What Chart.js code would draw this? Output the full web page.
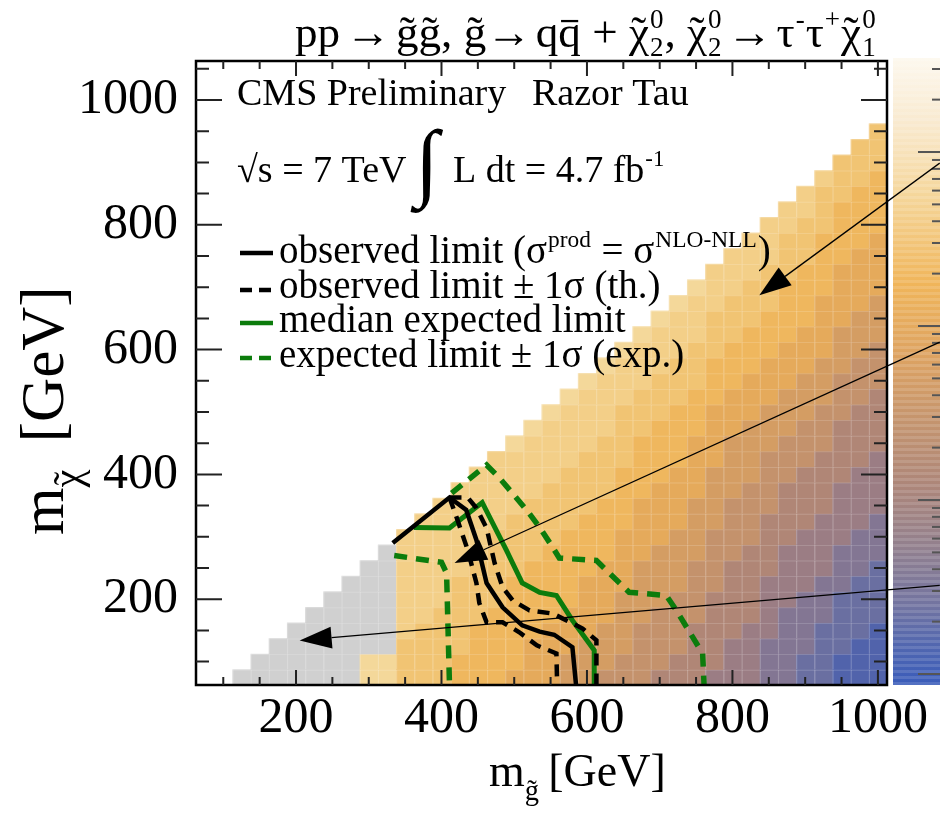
<!DOCTYPE html>
<html><head><meta charset="utf-8">
<script src="https://cdn.jsdelivr.net/npm/chart.js@4.4.0/dist/chart.umd.min.js"></script>
<style>html,body{margin:0;padding:0;background:#fff;}canvas{display:block;}</style>
</head><body>
<canvas id="c" width="940" height="826"></canvas>
<script>
// ---------------- data ----------------
const xTickLabels = [200, 400, 600, 800, 1000];
const yTickLabels = [200, 400, 600, 800, 1000];
// heat-map columns: gluino mass (bin centre, GeV)
const gluinoMass = [125,150,175,200,225,250,275,300,325,350,375,400,425,450,475,500,525,550,575,600,
                    625,650,675,700,725,750,775,800,825,850,875,900,925,950,975,1000];
// LSP mass of first cell in each column (bin centre, GeV); cells step by one bin upward
const chiMassFirst = 75;
// colour level of every cell, bottom -> top ('#' = grey, no value)
const levelColumns = [
  "#","##","###","####","#####","######","#######","00######","00#######",
  "2221111111","22221111111","222221111111","3322222111111","33332222111111",
  "333332222211111","4333333222211110","44433333222211110","444433333222211110",
  "5544433333222211110","55544443333222211110","655544443333222211110",
  "6655554444333322221110","66665555444433332221110","766665555444433332221110",
  "7766665555444433332221110","77776666555544443332221110","877777666655554444333222111",
  "8887777766665555444333222111","88887777766665555444333222111","999888877776666555444333222111",
  "9999988887777666555444333322211","aa999988887777666555444333322211",
  "aaaa99988887777666555444433332221","bbaaaa9998888777766655544443333222",
  "bbbaaaa9998888777766655544443333222","bbbbaaaa9998888777766655544443333222"
];
// contours (GeV)
const obsX      = [333, 411, 434, 448, 462, 484, 511, 535, 555, 580, 585];
const obsY      = [290, 363, 343, 295, 226, 187, 158, 148, 143, 123, 62.5];
const obsMinusX = [411, 422, 436, 448, 452, 462, 484, 507, 531, 558, 559];
const obsMinusY = [363, 327, 279, 226, 194, 163, 163, 147, 126, 113, 62.5];
const obsPlusX  = [411, 436, 448, 462, 473, 484, 498, 521, 553, 594, 613, 613];
const obsPlusY  = [363, 363, 346, 314, 258, 219, 198, 182, 177, 153, 134, 62.5];
const expX      = [362, 411, 456, 489, 511, 535, 558, 580, 610, 610];
const expY      = [315, 314, 355, 279, 226, 211, 206, 166, 118, 62.5];
const expPlusX  = [414, 462, 480, 517, 535, 553, 562, 613, 658, 709, 723, 759, 761];
const expPlusY  = [370, 415, 394, 343, 315, 283, 266, 262, 211, 206, 182, 113, 62.5];
const expMinusX = [335, 400, 407, 411];
const expMinusY = [270, 259, 242, 62.5];
// annotation arrows (GeV): tail -> head
const arrowTailX = [1085, 1085, 1085];
const arrowTailY = [899, 612, 222];
const arrowHeadX = [837, 418, 205];
const arrowHeadY = [687, 258, 134];

// ---------------- style ----------------
const BIN = 25, HALF = 12.5;
const levelColors = {'0':'#f4d89a','1':'#f3cf88','2':'#f1c473','3':'#efb75e','4':'#e5aa5b','5':'#d49d63',
  '6':'#c4926c','7':'#b08676','8':'#9b7d84','9':'#837693','a':'#6a6fa1','b':'#5163ab','#':'#d0d0d0'};
const GREEN = '#0c7c0c';
const SERIF = '"Liberation Serif", "DejaVu Serif", serif';
const zip = (xs, ys) => xs.map((v, i) => ({x: v, y: ys[i]}));

function rich(ctx, x, y, parts, B, draw = true) {
  let cx = x;
  for (const p of parts) {
    if (p.gap) { cx += p.gap * B; continue; }
    if (p.t) {
      const s = B * (p.s || 1);
      const yy = y + (p.dy || 0) * B;
      ctx.font = `${s}px ${SERIF}`;
      const w = ctx.measureText(p.t).width;
      if (draw) {
        ctx.fillText(p.t, cx, yy);
        if (p.tilde) {
          const tw = ctx.measureText('\u02DC').width;
          ctx.fillText('\u02DC', cx + (w - tw) / 2, yy - (p.tu || 0) * s);
        }
        if (p.bar) ctx.fillRect(cx + 0.12 * w, yy - 0.6 * s, 0.76 * w, Math.max(1.5, s * 0.05));
      }
      cx += w;
    }
    if (p.sub || p.sup) {
      const s = B * 0.6;
      ctx.font = `${s}px ${SERIF}`;
      let w2 = 0;
      if (p.sub) { if (draw) ctx.fillText(p.sub, cx + 1, y + 0.2 * B); w2 = Math.max(w2, ctx.measureText(p.sub).width); }
      if (p.sup) { if (draw) ctx.fillText(p.sup, cx + 1, y - 0.42 * B); w2 = Math.max(w2, ctx.measureText(p.sup).width); }
      cx += w2 + 2;
    }
  }
  return cx - x;
}

const heatmapPlugin = {
  id: 'heatmap',
  beforeDatasetsDraw(chart) {
    const {ctx, chartArea: a, scales: {x, y}} = chart;
    ctx.save();
    ctx.beginPath(); ctx.rect(a.left, a.top, a.width, a.height); ctx.clip();
    gluinoMass.forEach((mx, i) => {
      const col = levelColumns[i];
      for (let j = 0; j < col.length; j++) {
        const my = chiMassFirst + j * BIN;
        const x0 = x.getPixelForValue(mx - HALF), x1 = x.getPixelForValue(mx + HALF);
        const y0 = y.getPixelForValue(my + HALF), y1 = y.getPixelForValue(my - HALF);
        ctx.fillStyle = levelColors[col[j]];
        ctx.fillRect(x0, y0, x1 - x0 + 0.5, y1 - y0 + 0.5);
        ctx.fillStyle = 'rgba(255,255,255,0.22)';
        ctx.fillRect(x0, y0, 1.2, y1 - y0);
        ctx.fillRect(x0, y0, x1 - x0, 1.2);
      }
    });
    ctx.restore();
  }
};

const overlayPlugin = {
  id: 'overlay',
  afterDraw(chart) {
    const {ctx, chartArea: a, scales: {x, y}} = chart;
    ctx.save();
    // colour bar (z axis, log scale)
    const cbL = 893, cbR = 940, cbT = 58, cbB = 685;
    const g = ctx.createLinearGradient(0, cbT, 0, cbB);
    [[0,'#fdf8ee'],[0.1,'#f9ead0'],[0.22,'#f5d69a'],[0.36,'#f0b55a'],[0.48,'#dca262'],
     [0.58,'#c4946e'],[0.68,'#ad8679'],[0.78,'#92808e'],[0.87,'#7374a0'],[0.94,'#5066b0'],[1,'#3a5cba']]
      .forEach(([o, c]) => g.addColorStop(o, c));
    ctx.fillStyle = g; ctx.fillRect(cbL, cbT, cbR - cbL, cbB - cbT);
    for (let yy = cbT; yy < cbB; yy += 6) {
      ctx.fillStyle = 'rgba(255,255,255,0.13)'; ctx.fillRect(cbL, yy, cbR - cbL, 3);
    }
    ctx.strokeStyle = '#555'; ctx.lineWidth = 2;
    const decadePx = 174, zeroY = 152;
    for (let k = 0; k >= -3; k--) {
      for (let m = 1; m <= 9; m++) {
        const yy = zeroY - (k + Math.log10(m)) * decadePx;
        if (yy < cbT + 3 || yy > cbB - 3) continue;
        const len = m === 1 ? 22 : 8;
        ctx.beginPath(); ctx.moveTo(cbR - len, yy); ctx.lineTo(cbR, yy); ctx.stroke();
      }
    }
    // frame
    ctx.strokeStyle = '#000'; ctx.lineWidth = 2.5;
    ctx.strokeRect(a.left, a.top, a.right - a.left, a.bottom - a.top);
    // ticks
    ctx.lineWidth = 2; ctx.strokeStyle = '#222';
    for (let v = 100; v <= 1050; v += 50) {
      const py = y.getPixelForValue(v); const L = v % 200 === 0 ? 26 : 13;
      ctx.beginPath(); ctx.moveTo(a.left, py); ctx.lineTo(a.left + L, py);
      ctx.moveTo(a.right, py); ctx.lineTo(a.right - L, py); ctx.stroke();
    }
    for (let v = 100; v <= 1000; v += 50) {
      const px = x.getPixelForValue(v); const L = v % 200 === 0 ? 15 : 8;
      ctx.beginPath(); ctx.moveTo(px, a.bottom); ctx.lineTo(px, a.bottom - L);
      ctx.moveTo(px, a.top); ctx.lineTo(px, a.top + L); ctx.stroke();
    }
    // arrows
    ctx.strokeStyle = '#000'; ctx.fillStyle = '#000'; ctx.lineWidth = 1.3;
    arrowTailX.forEach((tx, i) => {
      const x0 = x.getPixelForValue(tx), y0 = y.getPixelForValue(arrowTailY[i]);
      const x1 = x.getPixelForValue(arrowHeadX[i]), y1 = y.getPixelForValue(arrowHeadY[i]);
      const ang = Math.atan2(y1 - y0, x1 - x0), HL = 32, HW = 11;
      const bx = x1 - HL * Math.cos(ang), by = y1 - HL * Math.sin(ang);
      ctx.beginPath(); ctx.moveTo(x0, y0); ctx.lineTo(bx, by); ctx.stroke();
      ctx.beginPath(); ctx.moveTo(x1, y1);
      ctx.lineTo(bx + HW * Math.sin(ang), by - HW * Math.cos(ang));
      ctx.lineTo(bx - HW * Math.sin(ang), by + HW * Math.cos(ang));
      ctx.closePath(); ctx.fill();
    });
    // texts
    ctx.fillStyle = '#000'; ctx.textBaseline = 'alphabetic'; ctx.textAlign = 'left';
    const titleParts = [
      {t:'pp'}, {gap:0.12}, {t:'\u2192'}, {gap:0.12}, {t:'g', tilde:1}, {t:'g', tilde:1}, {t:', '}, {t:'g', tilde:1}, {t:'\u2192'}, {gap:0.1}, {t:'q'},
      {t:'q', bar:1}, {t:' + '}, {t:'\u03C7', tilde:1, sub:'2', sup:'0'}, {t:', '},
      {t:'\u03C7', tilde:1, sub:'2', sup:'0'}, {gap:0.1}, {t:'\u2192'}, {gap:0.1}, {t:'\u03C4'}, {sup:'-'}, {t:'\u03C4'}, {sup:'+'},
      {t:'\u03C7', tilde:1, sub:'1', sup:'0'}
    ];
    const tw = rich(ctx, 0, 0, titleParts, 34, false);
    rich(ctx, 295, 47, titleParts, 34 * 585 / tw);

    ctx.font = `38px ${SERIF}`;
    ctx.fillText('CMS Preliminary', 237, 105);
    ctx.fillText('Razor Tau', 532, 105);
    ctx.fillText('\u221As = 7 TeV', 237, 182);
    ctx.font = `86px ${SERIF}`;
    ctx.fillText('\u222B', 415, 190);
    rich(ctx, 453, 182, [{t:'L dt = 4.7 fb'}, {sup:'-1'}], 38);

    // legend
    const legY = [253, 290, 323, 358];
    const legStyle = [['#000', []], ['#000', [12, 7]], [GREEN, []], [GREEN, [12, 7]]];
    legY.forEach((ly, i) => {
      ctx.strokeStyle = legStyle[i][0]; ctx.setLineDash(legStyle[i][1]); ctx.lineWidth = 4.5;
      ctx.beginPath(); ctx.moveTo(240, ly); ctx.lineTo(273, ly); ctx.stroke();
    });
    ctx.setLineDash([]);
    rich(ctx, 279, 263, [{t:'observed limit (\u03C3'}, {sup:'prod'}, {t:' = \u03C3'}, {sup:'NLO-NLL'}, {t:')'}], 39);
    rich(ctx, 279, 298, [{t:'observed limit \u00B1 1\u03C3 (th.)'}], 39);
    rich(ctx, 279, 332, [{t:'median expected limit'}], 39);
    rich(ctx, 279, 367, [{t:'expected limit \u00B1 1\u03C3 (exp.)'}], 39);

    // axis titles
    rich(ctx, 489, 786, [{t:'m'}, {t:'g', s:0.62, dy:0.3, tilde:1}, {gap:0.2}, {t:'[GeV]'}], 46);
    ctx.save(); ctx.translate(63, 535); ctx.rotate(-Math.PI / 2);
    rich(ctx, 0, 0, [{t:'m'}, {t:'\u03C7', s:0.66, dy:0.3, tilde:1}, {gap:0.45}, {t:'[GeV]'}], 61);
    ctx.restore();
    ctx.restore();
  }
};

const lineDs = (label, xs, ys, color, width, dash) => ({
  label, data: zip(xs, ys), showLine: true, pointRadius: 0, borderColor: color, borderWidth: width,
  borderDash: dash, borderCapStyle: 'butt', borderJoinStyle: 'miter', fill: false, tension: 0
});

new Chart(document.getElementById('c'), {
  type: 'scatter',
  data: { datasets: [
    lineDs('observed limit', obsX, obsY, '#000', 4.5, []),
    lineDs('observed -1 sigma', obsMinusX, obsMinusY, '#000', 4.5, [12, 8]),
    lineDs('observed +1 sigma', obsPlusX, obsPlusY, '#000', 4.5, [12, 8]),
    lineDs('median expected', expX, expY, GREEN, 5, []),
    lineDs('expected -1 sigma', expMinusX, expMinusY, GREEN, 5.5, [13, 9]),
    lineDs('expected +1 sigma', expPlusX, expPlusY, GREEN, 5.5, [13, 9])
  ]},
  options: {
    responsive: false, animation: false, devicePixelRatio: 1,
    layout: { padding: { left: 0, right: 53, top: 61, bottom: 0 } },
    plugins: { legend: { display: false }, tooltip: { enabled: false } },
    scales: {
      x: {
        type: 'linear', min: 62.5, max: 1012.5,
        afterFit(s) { s.height = 141; },
        afterBuildTicks(s) { s.ticks = xTickLabels.map(v => ({ value: v })); },
        grid: { display: false }, border: { display: false },
        ticks: { font: { family: SERIF, size: 50 }, color: '#000', padding: -4, maxRotation: 0, autoSkip: false,
                 callback: v => String(v) }
      },
      y: {
        type: 'linear', min: 62.5, max: 1062.5,
        afterFit(s) { s.width = 196; },
        afterBuildTicks(s) { s.ticks = yTickLabels.map(v => ({ value: v })); },
        grid: { display: false }, border: { display: false },
        ticks: { font: { family: SERIF, size: 50 }, color: '#000', padding: 10, autoSkip: false,
                 callback: v => String(v) }
      }
    }
  },
  plugins: [heatmapPlugin, overlayPlugin]
});
</script>
</body></html>
